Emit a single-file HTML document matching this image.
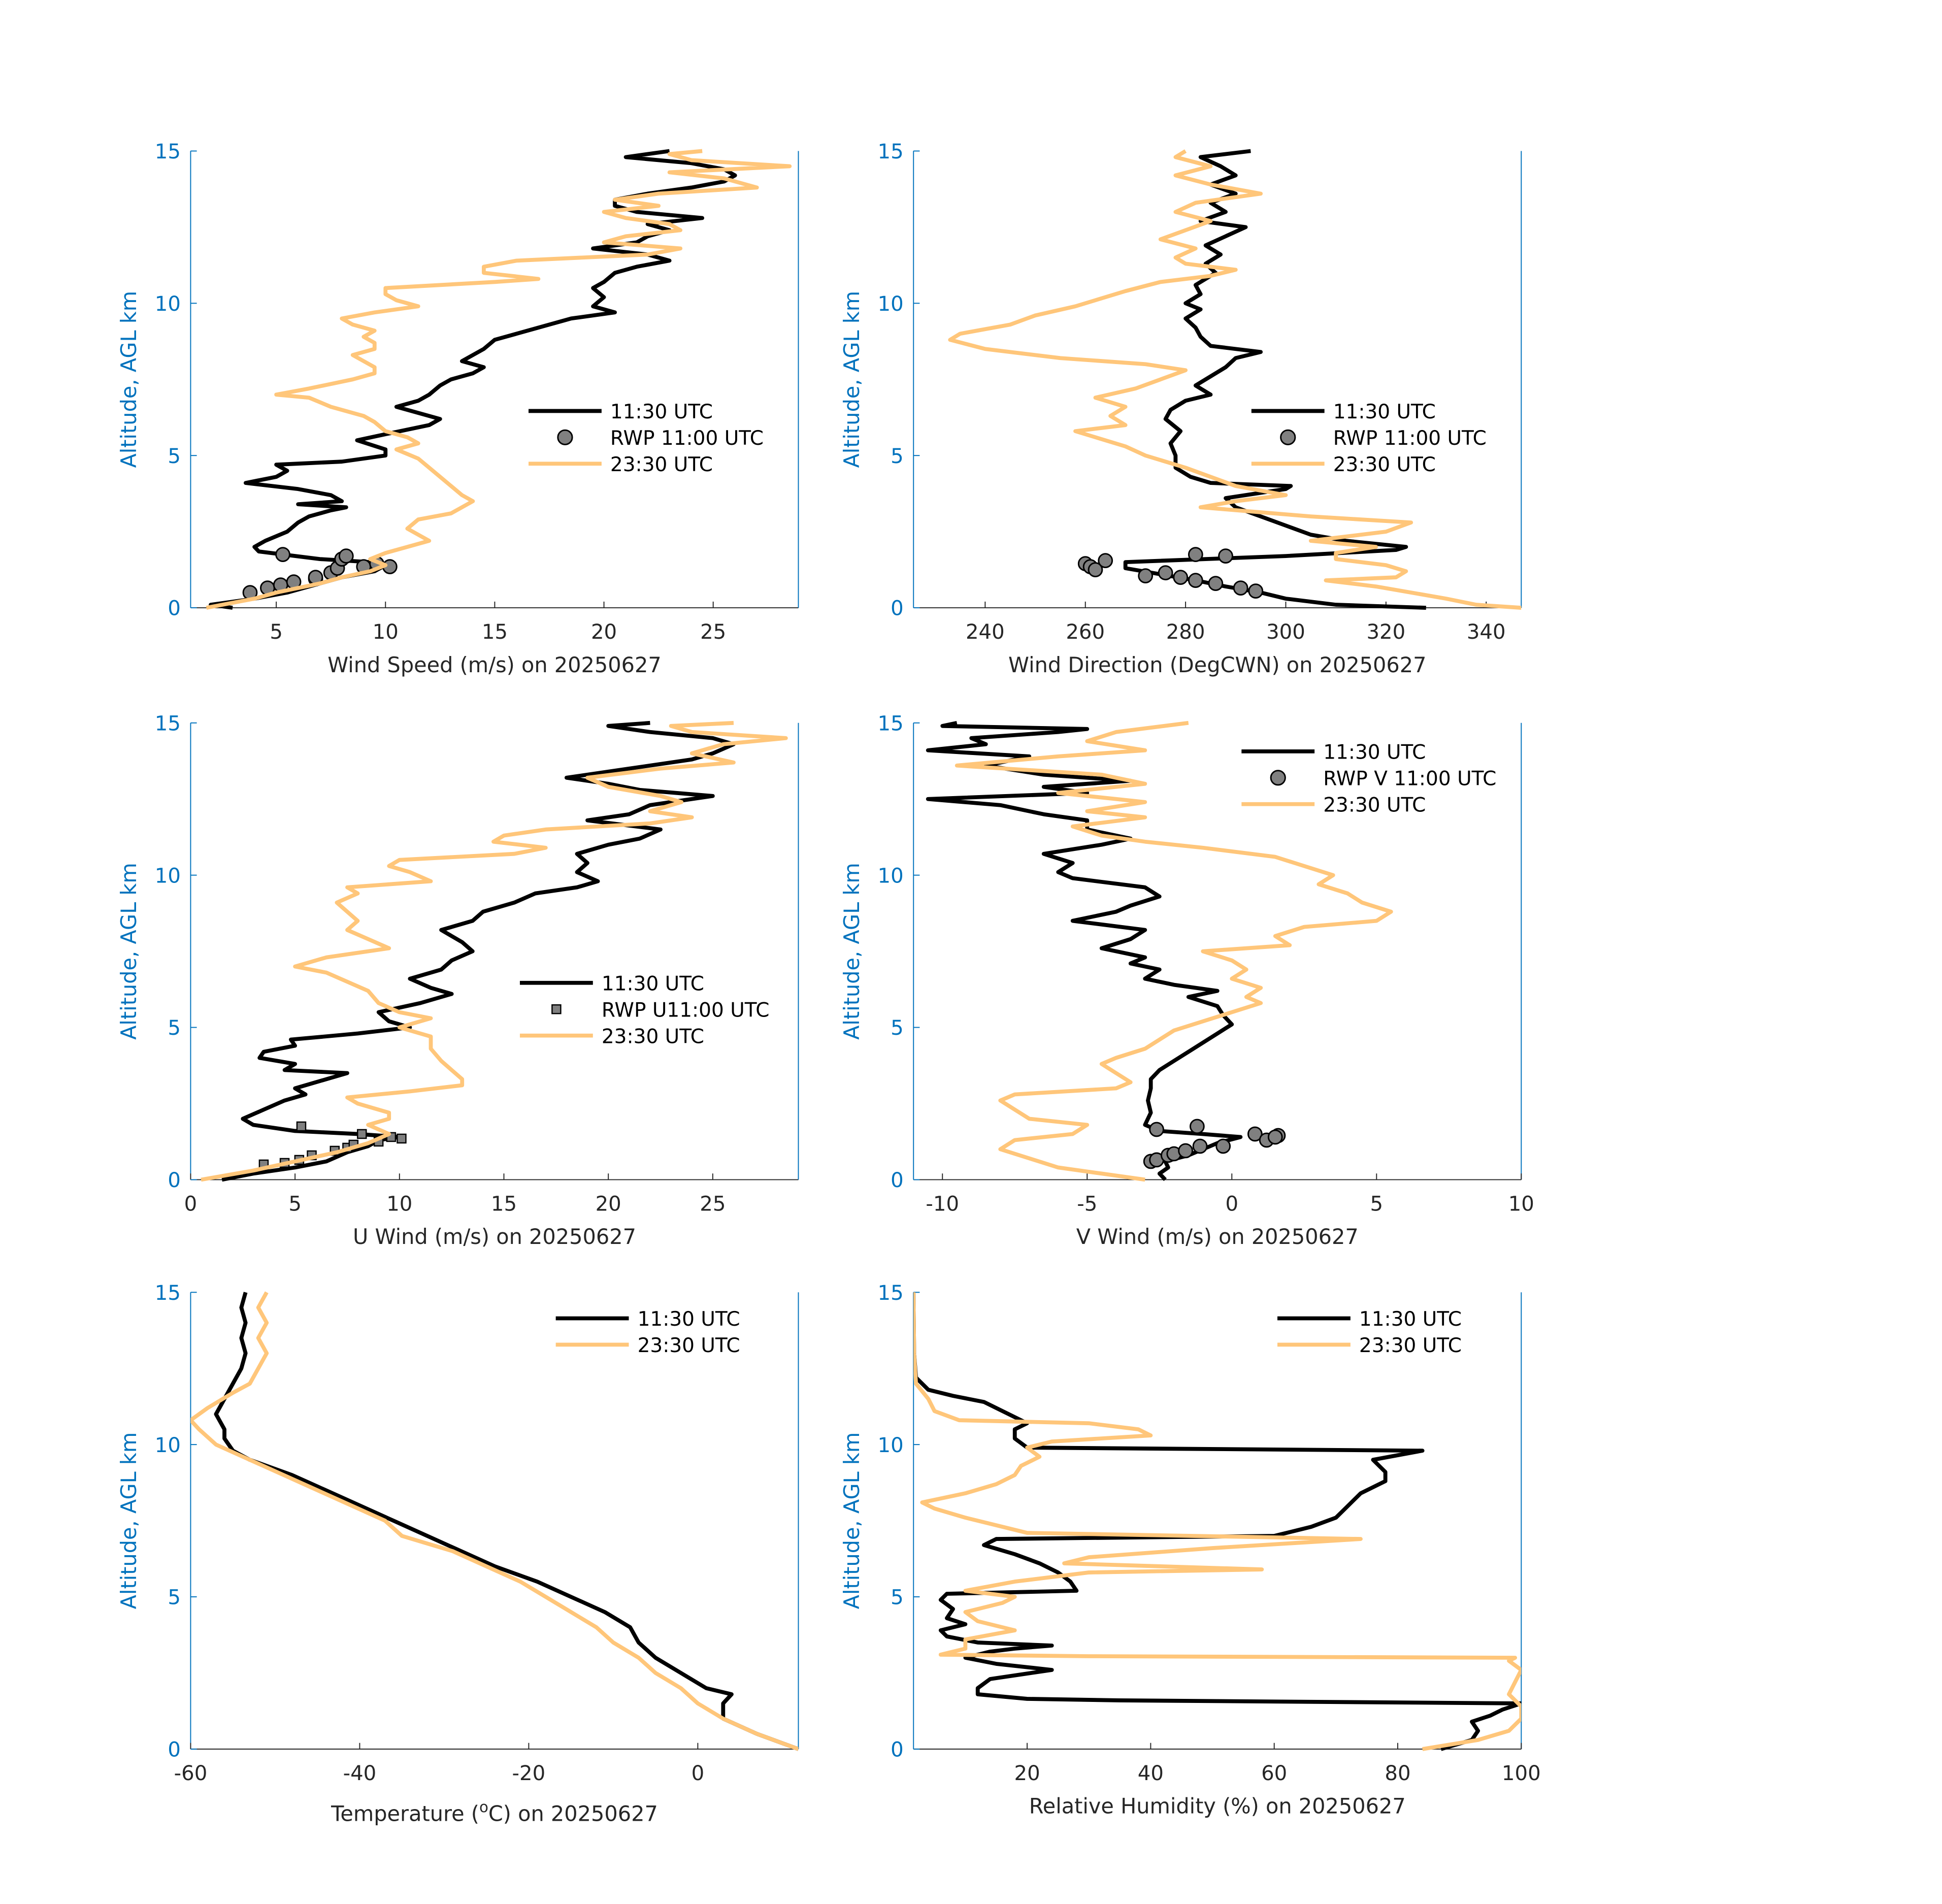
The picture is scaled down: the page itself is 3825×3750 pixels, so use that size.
<!DOCTYPE html>
<html><head><meta charset="utf-8"><style>
html,body{margin:0;padding:0;background:#fff;}
svg{display:block;font-family:"DejaVu Sans","Liberation Sans",sans-serif;}
</style></head><body>
<svg id="chart" xmlns="http://www.w3.org/2000/svg" width="3825" height="3750" viewBox="0 0 3825 3750">
<rect width="3825" height="3750" fill="#fff"/>
<g id="root" transform="scale(2.438)"></g>
</svg>
<script>
// ---- data: [value, altitude km] ----
const wsBlack=[[3,0],[2,0.1],[4,0.3],[5.5,0.5],[7,0.8],[8,1],[9.5,1.2],[10,1.4],[9.3,1.5],[7,1.6],[4.2,1.85],[4,2],[4.5,2.2],[5.5,2.5],[6,2.8],[6.5,3],[7.5,3.2],[8.2,3.3],[6,3.4],[8,3.5],[7.5,3.7],[6,3.9],[3.6,4.1],[5,4.3],[5.5,4.5],[5,4.7],[8,4.8],[10,5],[10,5.2],[8.7,5.5],[10,5.7],[12,6],[12.5,6.2],[11.5,6.4],[10.5,6.6],[11.5,6.8],[12,7],[12.5,7.3],[13,7.5],[14,7.7],[14.5,7.9],[13.5,8.1],[14,8.3],[14.5,8.5],[15,8.8],[16,9],[17.5,9.3],[18.5,9.5],[20.5,9.7],[19.5,9.9],[20,10.2],[19.5,10.5],[20,10.7],[20.5,11],[21.5,11.2],[23,11.4],[22,11.6],[19.5,11.8],[21.5,12],[22,12.2],[23,12.4],[22,12.6],[24.5,12.8],[21.5,13],[20.5,13.2],[20.5,13.4],[22,13.6],[24,13.8],[25.5,14],[26,14.2],[25.5,14.4],[24,14.6],[21,14.8],[23,15]];
const wsOrange=[[1.8,0],[4,0.3],[5,0.5],[7,0.8],[8,1],[9.3,1.2],[10,1.4],[9.3,1.6],[10,1.8],[11,2],[12,2.2],[11.5,2.4],[11,2.6],[11.5,2.9],[13,3.1],[13.5,3.3],[14,3.5],[13.5,3.7],[13,4],[12.5,4.3],[12,4.6],[11.5,4.9],[10.5,5.2],[11.5,5.4],[11,5.6],[10,5.8],[9.5,6.1],[9,6.3],[7.5,6.6],[6.5,6.9],[5,7],[6.5,7.2],[8.5,7.5],[9.5,7.7],[9.5,7.9],[9,8.1],[8.5,8.3],[9.5,8.5],[9.5,8.7],[9,8.9],[9.5,9.1],[8.5,9.3],[8,9.5],[9.5,9.7],[11.5,9.9],[10.5,10.1],[10,10.3],[10,10.5],[15,10.7],[17,10.8],[14.5,11],[14.5,11.2],[16,11.4],[22,11.6],[23.5,11.8],[20,12],[21,12.2],[23.5,12.4],[23,12.6],[21,12.8],[20,13],[22.5,13.2],[20.5,13.4],[22.5,13.6],[27,13.8],[25.5,14.1],[23,14.3],[28.5,14.5],[24,14.7],[23,14.9],[24.5,15]];
const wsRwp=[[3.8,0.5],[4.6,0.65],[5.2,0.75],[5.8,0.85],[6.8,0.95],[7.5,1.15],[7.8,1.3],[8,1.6],[8.2,1.7],[9,1.35],[9.6,1.45],[10.2,1.35],[5.3,1.75],[6.8,1.0]];

const wdBlack=[[328,0],[310,0.1],[300,0.3],[295,0.5],[288,0.7],[282,0.9],[275,1.1],[268,1.3],[268,1.5],[300,1.7],[322,1.9],[324,2],[312,2.2],[305,2.4],[300,2.7],[295,3],[290,3.3],[288,3.6],[300,3.9],[301,4],[285,4.1],[281,4.3],[278,4.6],[278,5],[277,5.4],[279,5.8],[276,6.2],[277,6.5],[280,6.8],[285,7],[282,7.3],[285,7.6],[288,7.9],[290,8.2],[295,8.4],[285,8.6],[283,8.9],[282,9.2],[280,9.5],[283,9.8],[280,10],[283,10.3],[282,10.6],[286,11],[284,11.3],[287,11.6],[284,11.9],[288,12.2],[292,12.5],[283,12.7],[288,13],[285,13.3],[290,13.6],[285,13.9],[290,14.2],[287,14.5],[283,14.8],[293,15]];
const wdOrange=[[347,0],[338,0.1],[332,0.3],[325,0.5],[318,0.7],[308,0.9],[322,1],[324,1.2],[320,1.4],[310,1.6],[310,1.8],[318,2],[305,2.2],[320,2.5],[325,2.8],[305,3],[283,3.3],[290,3.5],[300,3.7],[290,4],[285,4.3],[280,4.6],[272,5],[268,5.3],[262,5.6],[258,5.8],[268,6],[265,6.3],[268,6.6],[262,6.9],[270,7.2],[275,7.5],[280,7.8],[272,8],[255,8.2],[240,8.5],[233,8.8],[235,9],[245,9.3],[250,9.6],[258,9.9],[262,10.1],[268,10.4],[275,10.7],[285,10.9],[290,11.1],[280,11.3],[278,11.5],[282,11.8],[275,12.1],[280,12.4],[285,12.7],[278,13],[282,13.3],[295,13.6],[285,13.9],[278,14.2],[285,14.5],[278,14.8],[280,15]];
const wdRwp=[[260,1.45],[261,1.35],[262,1.25],[264,1.55],[272,1.05],[276,1.15],[279,1.0],[282,0.9],[286,0.8],[291,0.65],[294,0.55],[282,1.75],[288,1.7]];

const uBlack=[[1.5,0],[3,0.2],[5,0.4],[6.5,0.6],[7.5,0.9],[8.5,1.1],[9,1.3],[10,1.4],[8,1.5],[5,1.6],[3,1.8],[2.5,2],[3.5,2.3],[4.5,2.6],[5.5,2.8],[5,3],[6.5,3.3],[7.5,3.5],[4.5,3.6],[5,3.8],[3.3,4],[3.5,4.2],[5,4.4],[4.8,4.6],[8,4.8],[10.5,5],[9.5,5.2],[9,5.5],[11,5.8],[12.5,6.1],[11.5,6.3],[10.5,6.6],[12,6.9],[12.5,7.2],[13.5,7.5],[13,7.8],[12,8.2],[13.5,8.5],[14,8.8],[15.5,9.1],[16.5,9.4],[18.5,9.6],[19.5,9.8],[18.5,10.1],[19,10.4],[18.5,10.7],[20,11],[21.5,11.2],[22.5,11.5],[19,11.8],[21,12],[22,12.3],[25,12.6],[21.5,12.8],[20,13],[18,13.2],[21,13.5],[24,13.8],[25,14],[26,14.3],[25,14.5],[22,14.7],[20,14.9],[22,15]];
const uOrange=[[0.5,0],[3,0.3],[5,0.6],[7,0.9],[8.5,1.2],[9.5,1.5],[8.5,1.8],[9.5,2],[9.5,2.2],[8,2.5],[7.5,2.7],[10.5,2.9],[13,3.1],[13,3.3],[12.5,3.6],[12,3.9],[11.5,4.3],[11.5,4.7],[10,5],[11.5,5.3],[10,5.5],[9,5.8],[8.5,6.2],[7.5,6.5],[6.5,6.8],[5,7],[6.5,7.3],[9.5,7.6],[8.5,7.9],[7.5,8.2],[8,8.5],[7.5,8.8],[7,9.1],[8,9.4],[7.5,9.6],[11.5,9.8],[10.5,10.1],[9.5,10.3],[10,10.5],[15.5,10.7],[17,10.9],[14.5,11.1],[15,11.3],[17,11.5],[22,11.7],[24,11.9],[22,12.1],[23.5,12.4],[22.5,12.6],[20,12.9],[19,13.2],[22.5,13.5],[26,13.7],[24,14],[25.5,14.3],[28.5,14.5],[24,14.7],[23,14.9],[26,15]];
const uRwp=[[3.5,0.5],[4.5,0.55],[5.2,0.65],[5.8,0.8],[6.9,0.95],[7.5,1.05],[7.8,1.15],[9,1.25],[9.6,1.4],[10.1,1.35],[5.3,1.75],[8.2,1.5]];

const vBlack=[[-2.3,0],[-2.5,0.2],[-2.2,0.4],[-2.3,0.6],[-1.5,0.8],[-1,1],[-0.5,1.2],[0.3,1.4],[-1,1.5],[-2.5,1.6],[-3,1.8],[-2.8,2.2],[-2.9,2.6],[-2.8,3],[-2.8,3.3],[-2.5,3.6],[-2,3.9],[-1.5,4.2],[-1,4.5],[-0.5,4.8],[0,5.1],[-0.3,5.4],[-0.5,5.7],[-1.5,6],[-0.5,6.2],[-2,6.4],[-3,6.6],[-2.5,6.9],[-3.5,7.1],[-3,7.3],[-4.5,7.6],[-3.5,7.9],[-3,8.2],[-5.5,8.5],[-4,8.8],[-3.5,9],[-2.5,9.3],[-3,9.6],[-5.5,9.9],[-6,10.1],[-5.5,10.4],[-6.5,10.7],[-4.5,11],[-3.5,11.2],[-5,11.5],[-5,11.8],[-6.5,12],[-8,12.3],[-10.5,12.5],[-5,12.7],[-6.5,12.9],[-3.5,13.1],[-6.5,13.3],[-8.5,13.6],[-7,13.9],[-10.5,14.1],[-8.5,14.3],[-9,14.5],[-6,14.7],[-5,14.8],[-10,14.9],[-9.5,15]];
const vOrange=[[-3,0],[-4.5,0.2],[-6,0.4],[-7,0.7],[-8,1],[-7.5,1.3],[-5.5,1.5],[-5,1.8],[-7,2],[-7.5,2.3],[-8,2.6],[-7.5,2.8],[-4,3],[-3.5,3.2],[-4,3.5],[-4.5,3.8],[-4,4],[-3,4.3],[-2.5,4.6],[-2,4.9],[-1,5.2],[0,5.5],[1,5.8],[0.5,6],[1,6.3],[0,6.6],[0.5,6.9],[0,7.2],[-1,7.5],[2,7.7],[1.5,8],[2.5,8.3],[5,8.5],[5.5,8.8],[4.5,9.1],[4,9.4],[3,9.7],[3.5,10],[2.5,10.3],[1.5,10.6],[-1,10.9],[-3,11.1],[-4.5,11.3],[-5.5,11.6],[-3,11.9],[-5,12.1],[-3,12.4],[-6,12.7],[-3,13],[-4.5,13.3],[-9.5,13.6],[-6,13.9],[-3,14.1],[-5,14.4],[-4,14.7],[-1.5,15]];
const vRwp=[[-2.8,0.6],[-2.6,0.65],[-2.2,0.8],[-2,0.85],[-1.6,0.95],[-1.1,1.1],[-0.3,1.1],[0.8,1.5],[1.2,1.3],[1.6,1.45],[-2.6,1.65],[-1.2,1.75],[1.5,1.4]];

const tBlack=[[11.9,0],[7,0.5],[3,1],[3,1.5],[4,1.8],[1,2],[-2,2.5],[-5,3],[-7,3.5],[-8,4],[-11,4.5],[-15,5],[-19,5.5],[-24,6],[-28,6.5],[-32,7],[-36,7.5],[-40,8],[-44,8.5],[-48,9],[-53,9.5],[-55,9.8],[-56,10.2],[-56,10.5],[-57,11],[-56,11.5],[-55,12],[-54,12.5],[-53.5,13],[-54,13.5],[-53.5,14],[-54,14.5],[-53.5,15]];
const tOrange=[[11.9,0],[7,0.5],[3,1],[0,1.5],[-2,2],[-5,2.5],[-7,3],[-10,3.5],[-12,4],[-15,4.5],[-18,5],[-21,5.5],[-25,6],[-29,6.5],[-35,7],[-37,7.5],[-41,8],[-45,8.5],[-49,9],[-53,9.5],[-57,10],[-59,10.5],[-60,10.8],[-58,11.2],[-55,11.7],[-53,12],[-52,12.5],[-51,13],[-52,13.5],[-51,14],[-52,14.5],[-51,15]];

const rhBlack=[[87,0],[92,0.3],[93,0.6],[92,0.9],[95,1.1],[97,1.3],[100,1.5],[35,1.6],[20,1.65],[12,1.8],[12,2],[14,2.3],[24,2.6],[15,2.8],[10,3],[14,3.2],[18,3.3],[24,3.4],[12,3.5],[7,3.7],[6,3.9],[10,4.1],[7,4.3],[8,4.6],[6,4.9],[7,5.1],[28,5.2],[27,5.5],[25,5.8],[22,6.1],[18,6.4],[13,6.7],[15,6.9],[60,7],[66,7.3],[70,7.6],[72,8],[74,8.4],[78,8.8],[78,9.1],[76,9.5],[84,9.8],[20,9.9],[18,10.2],[18,10.5],[20,10.7],[17,11],[15,11.2],[13,11.4],[8,11.6],[4,11.8],[2,12.2],[1.7,13],[1.6,15]];
const rhOrange=[[84,0],[93,0.3],[98,0.6],[100,1],[100,1.4],[98,1.8],[99,2.2],[100,2.6],[98,2.9],[99,3],[30,3.05],[6,3.1],[10,3.3],[10,3.6],[18,3.9],[12,4.2],[10,4.5],[16,4.8],[18,5],[10,5.2],[18,5.5],[30,5.8],[58,5.9],[26,6.1],[30,6.3],[50,6.6],[74,6.9],[20,7.1],[16,7.3],[10,7.6],[5,7.9],[3,8.1],[10,8.4],[15,8.7],[18,9],[19,9.3],[22,9.6],[20,9.9],[24,10.1],[40,10.3],[38,10.5],[30,10.7],[9,10.8],[5,11.1],[4,11.5],[2,12],[1.7,13],[1.6,15]];

const yTicks=[0,5,10,15];
const panels=[
 {name:'wind-speed',x0:154,y0:122,xmin:1.08,xmax:28.9,ticks:[5,10,15,20,25],xlabel:'Wind Speed (m/s) on 20250627',black:wsBlack,orange:wsOrange,rwp:wsRwp,marker:'circle',leg:['11:30 UTC','RWP 11:00 UTC','23:30 UTC'],lx:427,ly:332},
 {name:'wind-direction',x0:738,y0:122,xmin:225.7,xmax:347,ticks:[240,260,280,300,320,340],xlabel:'Wind Direction (DegCWN) on 20250627',black:wdBlack,orange:wdOrange,rwp:wdRwp,marker:'circle',leg:['11:30 UTC','RWP 11:00 UTC','23:30 UTC'],lx:1011,ly:332},
 {name:'u-wind',x0:154,y0:584,xmin:0,xmax:29.1,ticks:[0,5,10,15,20,25],xlabel:'U Wind (m/s) on 20250627',black:uBlack,orange:uOrange,rwp:uRwp,marker:'square',leg:['11:30 UTC','RWP U11:00 UTC','23:30 UTC'],lx:420,ly:794},
 {name:'v-wind',x0:738,y0:584,xmin:-11,xmax:10,ticks:[-10,-5,0,5,10],xlabel:'V Wind (m/s) on 20250627',black:vBlack,orange:vOrange,rwp:vRwp,marker:'circle',leg:['11:30 UTC','RWP V 11:00 UTC','23:30 UTC'],lx:1003,ly:607},
 {name:'temperature',x0:154,y0:1044,xmin:-60,xmax:11.9,ticks:[-60,-40,-20,0],xlabel:'TEMP',black:tBlack,orange:tOrange,rwp:null,leg:['11:30 UTC','23:30 UTC'],lx:449,ly:1065},
 {name:'relative-humidity',x0:738,y0:1044,xmin:1.6,xmax:100,ticks:[20,40,60,80,100],xlabel:'Relative Humidity (%) on 20250627',black:rhBlack,orange:rhOrange,rwp:null,leg:['11:30 UTC','23:30 UTC'],lx:1032,ly:1065}
];
const W=491,H=369,NS='http://www.w3.org/2000/svg';
const root=document.getElementById('root');
function mk(tag,attrs,parent){const e=document.createElementNS(NS,tag);for(const k in attrs)e.setAttribute(k,attrs[k]);parent.appendChild(e);return e;}
panels.forEach(p=>{
 const g=mk('g',{},root);
 
 
 const sx=v=>p.x0+(v-p.xmin)/(p.xmax-p.xmin)*W;
 const sy=a=>p.y0+H-a/15*H;
 const clip='clip-'+p.name;
 const cp=mk('clipPath',{id:clip},g);mk('rect',{x:p.x0,y:p.y0-2,width:W,height:H+4},cp);
 const bx=mk('line',{x1:p.x0,y1:p.y0+H,x2:p.x0+W,y2:p.y0+H,stroke:'#262626','stroke-width':0.8},g);
 
 
 const ly=mk('line',{x1:p.x0,y1:p.y0,x2:p.x0,y2:p.y0+H,stroke:'#0072BD','stroke-width':0.8},g);
 
 
 const ry=mk('line',{x1:p.x0+W,y1:p.y0,x2:p.x0+W,y2:p.y0+H,stroke:'#0072BD','stroke-width':0.8},g);
 
 
 p.ticks.forEach(t=>{const x=sx(t);
  mk('line',{x1:x,y1:p.y0+H,x2:x,y2:p.y0+H-5,stroke:'#262626','stroke-width':0.8},g);
  const tx=mk('text',{x:x,y:p.y0+H+25,'font-size':16.5,'text-anchor':'middle',fill:'#262626'},g);tx.textContent=t;
  
  
 });
 yTicks.forEach(t=>{const y=sy(t);
  mk('line',{x1:p.x0,y1:y,x2:p.x0+5,y2:y,stroke:'#0072BD','stroke-width':0.8},g);
  const ty=mk('text',{x:p.x0-8,y:y+6,'font-size':16.5,'text-anchor':'end',fill:'#0072BD'},g);ty.textContent=t;
  
  
 });
 const xl=mk('text',{x:p.x0+W/2,y:p.y0+H+52,'font-size':17,'text-anchor':'middle',fill:'#262626'},g);
 if(p.xlabel==='TEMP'){xl.setAttribute('y',p.y0+H+58);xl.innerHTML='Temperature (<tspan dy="-7" font-size="12">o</tspan><tspan dy="7">C) on 20250627</tspan>';}
 else xl.textContent=p.xlabel;
 
 
 const yl=mk('text',{x:0,y:0,'font-size':17,'text-anchor':'middle',fill:'#0072BD',transform:`translate(${p.x0-44},${p.y0+H/2}) rotate(-90)`},g);
 yl.textContent='Altitude, AGL km';
 
 
 const pd=d=>d.map((q,i)=>(i?'L':'M')+sx(q[0]).toFixed(2)+','+sy(q[1]).toFixed(2)).join('');
 const lb=mk('path',{d:pd(p.black),fill:'none',stroke:'#000','stroke-width':3.2,'stroke-linejoin':'round','clip-path':`url(#${clip})`},g);
 
 
 if(p.rwp){p.rwp.forEach(q=>{
  let m;
  if(p.marker==='square')m=mk('rect',{x:sx(q[0])-3.5,y:sy(q[1])-3.5,width:7,height:7,fill:'#808080',stroke:'#000','stroke-width':1},g);
  else m=mk('circle',{cx:sx(q[0]),cy:sy(q[1]),r:5.5,fill:'#808080',stroke:'#000','stroke-width':1.2},g);
  
  
 });}
 const lo=mk('path',{d:pd(p.orange),fill:'none',stroke:'#FFC67A','stroke-width':3.2,'stroke-linejoin':'round','clip-path':`url(#${clip})`},g);
 
 
 const lg=mk('g',{},g);
 
 
 p.leg.forEach((s,i)=>{const y=p.ly+i*21.3;
  const isR=p.leg.length===3&&i===1;
  const isO=i===p.leg.length-1;
  if(isR){ if(p.marker==='square')mk('rect',{x:p.lx+26,y:y-3.5,width:7,height:7,fill:'#808080',stroke:'#000','stroke-width':1},lg);
   else mk('circle',{cx:p.lx+29.5,cy:y,r:5.8,fill:'#808080',stroke:'#000','stroke-width':1.2},lg);}
  else mk('line',{x1:p.lx,y1:y,x2:p.lx+59,y2:y,stroke:isO?'#FFC67A':'#000','stroke-width':3.2},lg);
  const t=mk('text',{x:p.lx+66,y:y+6,'font-size':16,fill:'#000'},lg);t.textContent=s;
  
  
 });
});
</script>
</body></html>
